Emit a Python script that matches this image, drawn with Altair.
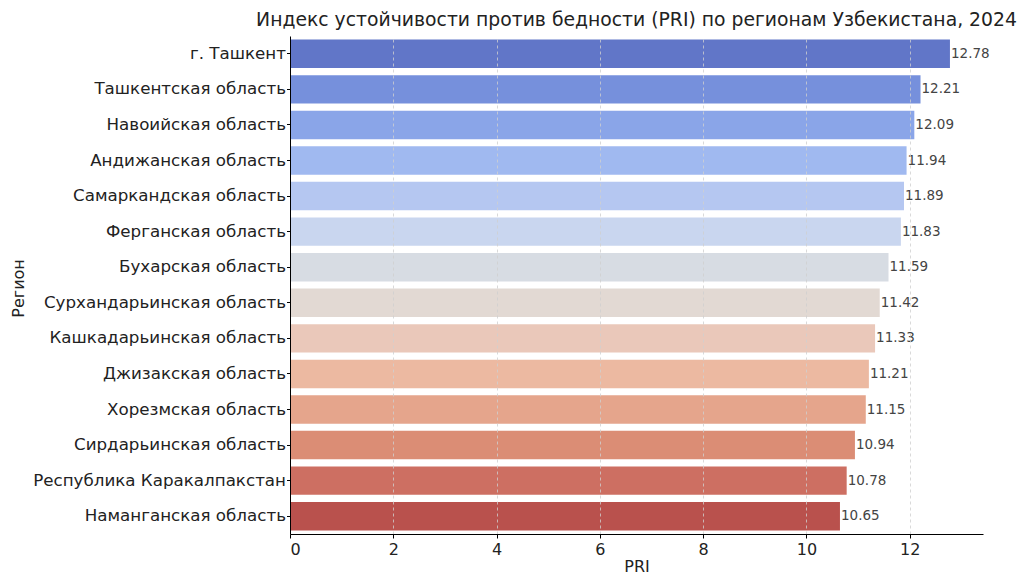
import altair as alt
import pandas as pd

regions = [
    "г. Ташкент",
    "Ташкентская область",
    "Навоийская область",
    "Андижанская область",
    "Самаркандская область",
    "Ферганская область",
    "Бухарская область",
    "Сурхандарьинская область",
    "Кашкадарьинская область",
    "Джизакская область",
    "Хорезмская область",
    "Сирдарьинская область",
    "Республика Каракалпакстан",
    "Наманганская область",
]
pri = [12.78, 12.21, 12.09, 11.94, 11.89, 11.83, 11.59, 11.42, 11.33, 11.21, 11.15, 10.94, 10.78, 10.65]
colors = [
    "#6176c8", "#7690dc", "#8aa5e8", "#a0b9f0", "#b5c7f1", "#c9d6ef", "#d7dce3",
    "#e2d9d3", "#eac8ba", "#ecb9a1", "#e5a58c", "#db8d75", "#cd6f62", "#b9514d",
]
tick_values = [0, 2, 4, 6, 8, 10, 12]

df = pd.DataFrame({"Регион": regions, "PRI": pri, "label": [f"{v:.2f}" for v in pri]})

FONT = "DejaVu Sans"

x = alt.X(
    "PRI:Q",
    title="PRI",
    scale=alt.Scale(domain=[0, 13.42], nice=False, zero=True),
    axis=alt.Axis(
        values=tick_values,
        format="d",
        grid=True,
        gridDash=[3, 3],
        gridColor="#cfcfcf",
        gridWidth=0.8,
        domainColor="#000000",
        domainWidth=1,
        tickColor="#000000",
        tickSize=4,
        labelFontSize=16,
        labelFont=FONT,
        labelColor="#222222",
        labelPadding=3,
        titleFont=FONT,
        titleFontSize=16,
        titleFontWeight="normal",
        titleColor="#222222",
        titlePadding=1,
        zindex=1,
    ),
)
y = alt.Y(
    "Регион:N",
    sort=regions,
    title="Регион",
    scale=alt.Scale(paddingInner=0.2, paddingOuter=0.1),
    axis=alt.Axis(
        grid=False,
        domainColor="#000000",
        domainWidth=1,
        tickColor="#000000",
        tickSize=3.5,
        labelFontSize=16.7,
        labelFont=FONT,
        labelColor="#222222",
        labelPadding=1,
        labelLimit=400,
        titleFont=FONT,
        titleFontSize=16,
        titleFontWeight="normal",
        titleColor="#222222",
        titleX=-272,
        titleY=252,
        titleAngle=270,
        titleBaseline="middle",
        titleAlign="center",
        zindex=1,
    ),
)

bars = alt.Chart(df).mark_bar().encode(
    x=x,
    y=y,
    color=alt.Color("Регион:N", scale=alt.Scale(domain=regions, range=colors), legend=None),
)

text = alt.Chart(df).mark_text(
    align="left", baseline="middle", dx=1, fontSize=13.5, font=FONT, color="#444444"
).encode(
    x=alt.X("PRI:Q"),
    y=alt.Y("Регион:N", sort=regions),
    text="label:N",
)

chart = (
    alt.layer(bars, text)
    .properties(
        width=693,
        height=498,
        title=alt.TitleParams(
            "Индекс устойчивости против бедности (PRI) по регионам Узбекистана, 2024",
            font=FONT,
            fontSize=18.8,
            fontWeight="normal",
            color="#222222",
            anchor="middle",
            offset=6,
        ),
        autosize=alt.AutoSizeParams(type="none"),
        padding={"left": 282, "top": 28, "right": 42, "bottom": 41},
    )
    .configure_view(stroke=None)
)

chart.save("out.html", embed_options={"renderer": "svg", "actions": False})
